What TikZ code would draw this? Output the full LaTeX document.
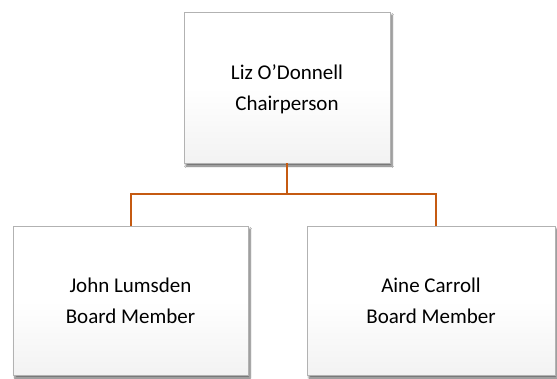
\documentclass[tikz,border=0pt]{standalone}
\usepackage{fontspec}
\setmainfont{Carlito}
\usetikzlibrary{shadows.blur}
\definecolor{linkc}{HTML}{C55A11}
\tikzset{
  orgbox/.style={rectangle, draw=gray!60, line width=0.9bp,
    top color=white, bottom color=gray!10, middle color=white,
    blur shadow={shadow xshift=2bp, shadow yshift=-3bp, shadow blur steps=6, shadow opacity=60},
    align=center, inner sep=0pt,
    font=\fontsize{21bp}{31bp}\selectfont},
  link/.style={draw=linkc, line width=2.2bp}
}
\begin{document}
\begin{tikzpicture}[x=1bp,y=-1bp]
\useasboundingbox (0,0) rectangle (557,378);
\fill[white] (0,0) rectangle (557,378);
\node[orgbox, minimum width=206bp, minimum height=151bp, text depth=-2bp] (chair) at (287,87.5) {Liz O’Donnell\\Chairperson};
\node[orgbox, minimum width=235bp, minimum height=149bp] (john) at (130.5,300.5) {John Lumsden\\Board Member};
\node[orgbox, minimum width=248bp, minimum height=149bp] (aine) at (431,300.5) {Aine Carroll\\Board Member};
\coordinate (mid) at (287,194);
\draw[link] (chair.south) -- (mid);
\draw[link] (john.north -| 131,0) |- (mid) -| (aine.north -| 436,0);
\end{tikzpicture}
\end{document}
